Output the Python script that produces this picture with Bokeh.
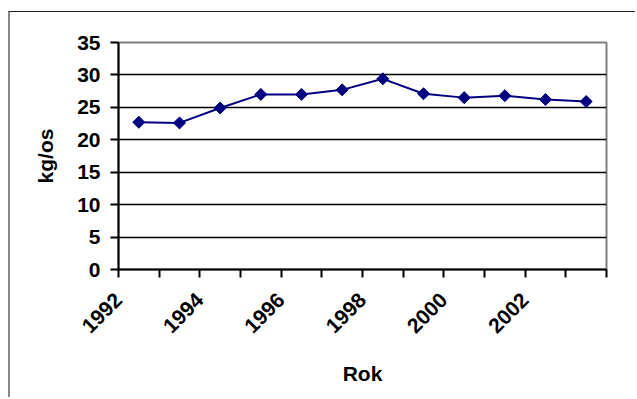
import math
from bokeh.plotting import figure
from bokeh.models import FixedTicker, Range1d, ColumnDataSource
from bokeh.embed import file_html
from bokeh.resources import INLINE

# ---- data ----
years = [1992, 1993, 1994, 1995, 1996, 1997, 1998, 1999, 2000, 2001, 2002, 2003]
consumption = [22.7, 22.6, 24.9, 27.0, 27.0, 27.7, 29.4, 27.1, 26.5, 26.8, 26.2, 25.9]
x_tick_labels = ["1992", "", "1994", "", "1996", "", "1998", "", "2000", "", "2002", "", ""]
y_ticks = [0, 5, 10, 15, 20, 25, 30, 35]
x_title = "Rok"
y_title = "kg/os"

FONT = "Liberation Sans"
NAVY = "#000080"

n = len(years)
src = ColumnDataSource(dict(x=[i + 0.5 for i in range(n)], y=consumption))

p = figure(frame_width=488, frame_height=227,
           x_range=Range1d(0, n), y_range=Range1d(0, 35),
           output_backend="svg", toolbar_location=None,
           min_border_left=108, min_border_top=30,
           min_border_right=29, min_border_bottom=128)
p.styles = {"margin-top": "11px",
            "margin-left": "8px",
            "border-top": "1px solid #222222",
            "border-left": "2px solid #888888"}

p.background_fill_color = "white"
p.border_fill_color = "white"
p.outline_line_color = "#808080"
p.outline_line_width = 2

# grid
p.xgrid.visible = False
p.ygrid.ticker = FixedTicker(ticks=y_ticks[1:-1])
p.ygrid.grid_line_color = "#000000"
p.ygrid.grid_line_width = 1.5

# y axis
p.yaxis.ticker = FixedTicker(ticks=y_ticks)
p.yaxis.axis_line_color = "#000000"
p.yaxis.axis_line_width = 2
p.yaxis.major_tick_line_color = "#000000"
p.yaxis.major_tick_line_width = 2
p.yaxis.major_tick_out = 8
p.yaxis.major_tick_in = 0
p.yaxis.minor_tick_line_color = None
p.yaxis.major_label_standoff = 10
p.yaxis.axis_label = y_title
p.yaxis.axis_label_standoff = 17

# x axis
p.xaxis.ticker = FixedTicker(ticks=list(range(n + 1)))
p.xaxis.major_label_overrides = {i: lab for i, lab in enumerate(x_tick_labels)}
p.xaxis.major_label_orientation = math.pi / 4
p.xaxis.axis_line_color = "#000000"
p.xaxis.axis_line_width = 2
p.xaxis.major_tick_line_color = "#000000"
p.xaxis.major_tick_line_width = 2
p.xaxis.major_tick_out = 8
p.xaxis.major_tick_in = 0
p.xaxis.minor_tick_line_color = None
p.xaxis.major_label_standoff = 19
p.xaxis.axis_label = x_title
p.xaxis.axis_label_standoff = 20

for ax in (p.xaxis[0], p.yaxis[0]):
    ax.major_label_text_font = FONT
    ax.major_label_text_font_style = "bold"
    ax.major_label_text_font_size = "21px"
    ax.major_label_text_color = "#000000"
    ax.axis_label_text_font = FONT
    ax.axis_label_text_font_style = "bold"
    ax.axis_label_text_font_size = "21px"
    ax.axis_label_text_color = "#000000"

p.line("x", "y", source=src, line_color=NAVY, line_width=2)
p.scatter("x", "y", source=src, marker="square", angle=math.pi / 4,
          size=8.5, fill_color=NAVY, line_color=NAVY)

open("out.html", "w").write(file_html(p, INLINE))
